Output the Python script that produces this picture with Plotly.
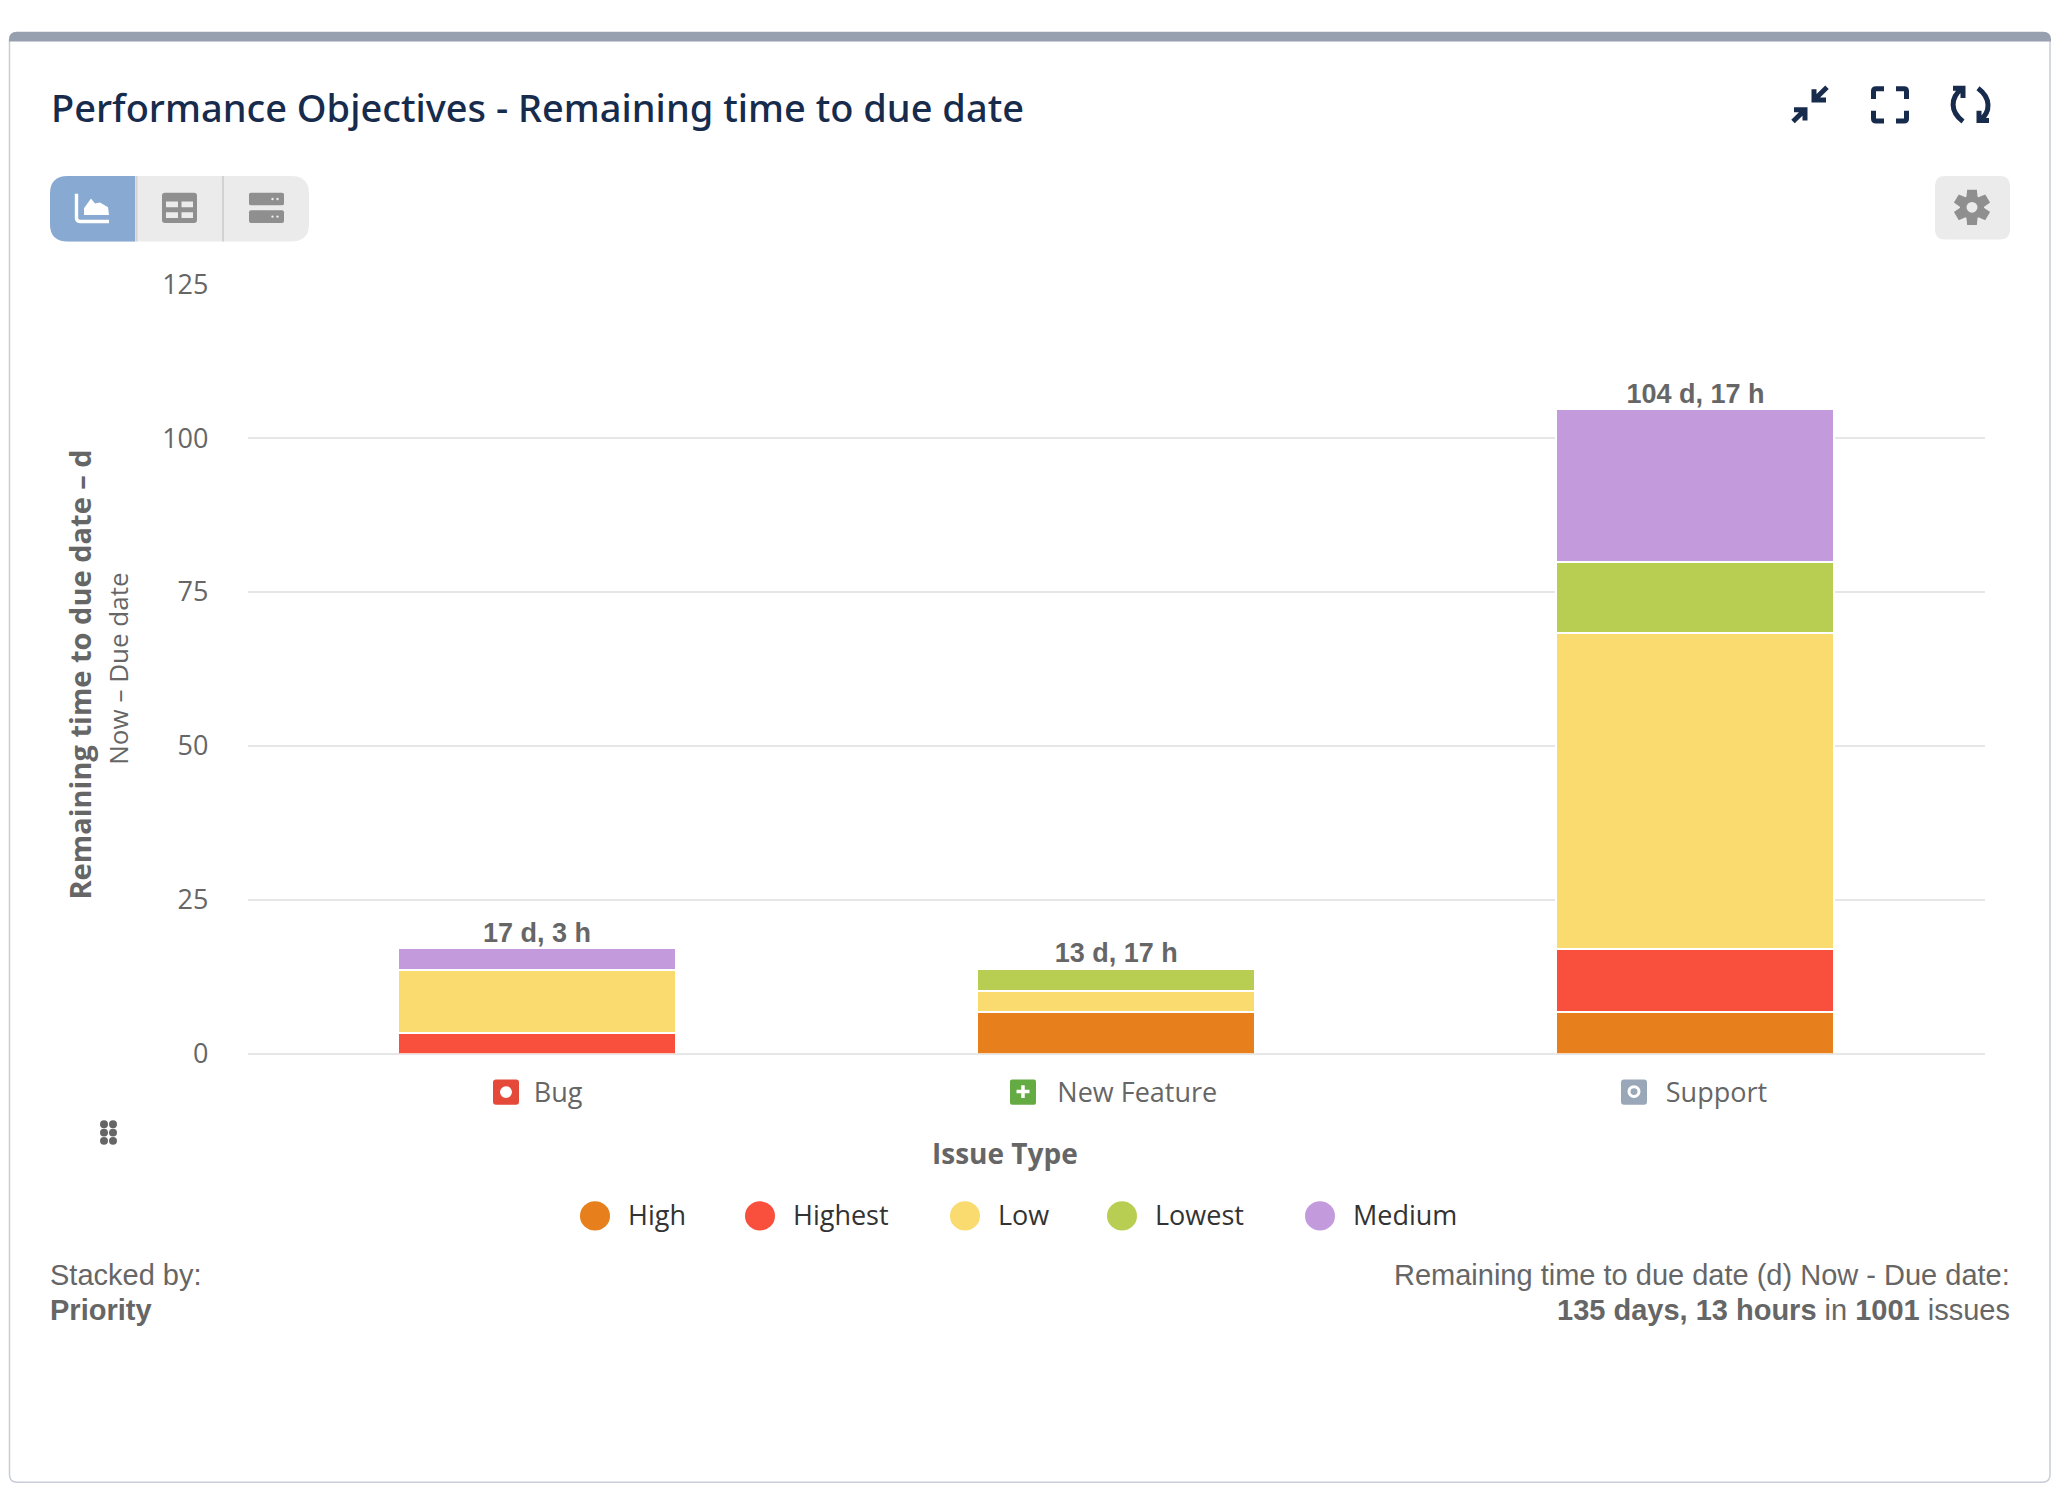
import math
import re
import plotly.graph_objects as go

W, H = 2064, 1510

# ---------- data ----------
categories = ["Bug", "New Feature", "Support"]
high = [None, 6.7, 6.7]
highest = [3.4, None, 10.3]
low = [10.2, 3.4, 51.3]
lowest = [None, 3.6, 11.5]
medium = [3.5, None, 24.9]
total_labels = ["17 d, 3 h", "13 d, 17 h", "104 d, 17 h"]
y_ticks = [0, 25, 50, 75, 100, 125]
priority_names = ["High", "Highest", "Low", "Lowest", "Medium"]
priority_colors = ["#E67F1C", "#F94F3D", "#F9DB6F", "#B8CE52", "#C39BDC"]
series = [high, highest, low, lowest, medium]

GREY = "#666666"
NAVY = "#172B4D"
SANS = "Open Sans"
ARIAL = "Liberation Sans"
NBSP = "\u00a0"


# ---------- pixel helpers for the surrounding card ----------
def fx(x):
    return x / W


def fy(y):
    return 1 - y / H


def path(d):
    """Pixel path (M/L/C/Q/Z with absolute x,y pairs) to paper coordinates."""
    return re.sub(r"(-?[\d.]+),(-?[\d.]+)",
                  lambda m: f"{fx(float(m[1])):.6f},{fy(float(m[2])):.6f}", d)


shapes = []


def add_path(d, fill=None, stroke=None, width=0, layer="above"):
    s = dict(type="path", xref="paper", yref="paper", path=path(d), layer=layer)
    s["fillcolor"] = fill if fill else "rgba(0,0,0,0)"
    s["line"] = dict(color=stroke if stroke else "rgba(0,0,0,0)", width=width)
    shapes.append(s)


def rr(x0, y0, x1, y1, tl=0, tr=0, br=0, bl=0):
    return (f"M{x0+tl},{y0} L{x1-tr},{y0} Q{x1},{y0} {x1},{y0+tr} L{x1},{y1-br} "
            f"Q{x1},{y1} {x1-br},{y1} L{x0+bl},{y1} Q{x0},{y1} {x0},{y1-bl} "
            f"L{x0},{y0+tl} Q{x0},{y0} {x0+tl},{y0} Z")


def circle(cx, cy, rx, color, ry=None):
    ry = rx if ry is None else ry
    shapes.append(dict(type="circle", xref="paper", yref="paper",
                       x0=fx(cx - rx), x1=fx(cx + rx), y0=fy(cy + ry), y1=fy(cy - ry),
                       fillcolor=color, line=dict(width=0)))


annotations = []


def text(x, y, s, size, color=GREY, family=SANS, anchor="left", angle=0, weight=None):
    font = dict(size=size, color=color, family=family)
    if weight:
        font["weight"] = weight
    annotations.append(dict(xref="paper", yref="paper", x=fx(x), y=fy(y), text=s,
                            showarrow=False, xanchor=anchor, yanchor="middle",
                            textangle=angle, font=font, borderpad=0, borderwidth=0))


# card
add_path(rr(9.5, 13, 2050, 1499, 8, 8, 8, 8), fill="#FFFFFF", stroke="#C7CDD6", width=1.5, layer="below")
add_path(rr(9, 12, 2051, 22, 8, 8, 0, 0), fill="#97A0AF", layer="below")

# view switcher
add_path(rr(50, 160, 309, 227, 18, 18, 18, 18), fill="#EBEBEB")
add_path(rr(50, 160, 135, 227, 18, 0, 0, 18), fill="#88A9D1")
add_path("M136.5,160 L136.5,227", stroke="#D2D2D2", width=2)
add_path("M223,160 L223,227", stroke="#D2D2D2", width=2)
# chart icon
add_path("M76.5,178 L76.5,203 Q76.5,206.5 80,206.5 L109,206.5", stroke="#FFFFFF", width=3.4)
add_path("M84,200 L84,193 L91,183 L95,188 L100,187 L108,192 L109,200 Z", fill="#FFFFFF")
# table icon
add_path(rr(162, 177, 197, 208, 3, 3, 3, 3), fill="#8F8F8F")
for x0, x1 in [(166, 178), (181.5, 193)]:
    for y0, y1 in [(186, 192), (197, 203)]:
        add_path(rr(x0, y0, x1, y1), fill="#EBEBEB")
# list icon
for y0 in (177, 195):
    add_path(rr(249, y0, 284, y0 + 13, 2, 2, 2, 2), fill="#8F8F8F")
    circle(272.5, y0 + 6.5, 1.2, "#EBEBEB")
    circle(277.5, y0 + 6.5, 1.2, "#EBEBEB")

# settings button
add_path(rr(1935, 160, 2010, 225, 10, 10, 10, 10), fill="#EBEBEB")
gear = []
for i in range(6):
    a = math.radians(60 * i - 90)
    for da, r in [(-25, 11), (-13, 17.5), (13, 17.5), (25, 11)]:
        t = a + math.radians(da)
        gear.append((1972 + r * math.cos(t), 192 + r * math.sin(t)))
add_path("M" + " L".join(f"{x:.2f},{y:.2f}" for x, y in gear) + " Z", fill="#8F8F8F", stroke="#8F8F8F", width=2)
circle(1972, 192, 12, "#8F8F8F")
circle(1972, 192, 5.5, "#EBEBEB")

# header icons
stroke = dict(stroke=NAVY, width=5)
add_path("M1827,69 L1814,82 M1814,71 L1814,82 L1826,82", **stroke)
add_path("M1793,104 L1805,92 M1794,92 L1805,92 L1805,103", **stroke)
add_path("M1873.5,81 L1873.5,73 Q1873.5,70.5 1876,70.5 L1884,70.5 M1896,70.5 L1904,70.5 Q1906.5,70.5 1906.5,73 L1906.5,81 "
         "M1906.5,93 L1906.5,101 Q1906.5,103.5 1904,103.5 L1896,103.5 M1884,103.5 L1876,103.5 Q1873.5,103.5 1873.5,101 L1873.5,93", **stroke)
add_path("M1963,104 C1950,94 1950,80 1962,70 M1953,70 L1963,70 L1963,80", **stroke)
add_path("M1978,70 C1991,80 1991,94 1980,103 M1989,103 L1979,103 L1979,93", **stroke)

# drag handle
for cx in (104, 113):
    for cy in (1132, 1140.5, 1149):
        circle(cx, cy, 4, GREY)

# issue-type icons next to the category labels
add_path(rr(493, 1086, 519, 1112, 3, 3, 3, 3), fill="#E5493A")
circle(506, 1099, 6, "#FFFFFF")
add_path(rr(1010, 1086, 1036, 1112, 2, 2, 2, 2), fill="#65AB43")
add_path("M1023,1092 L1023,1105 M1016.5,1098.5 L1029.5,1098.5", stroke="#FFFFFF", width=3.5)
add_path(rr(1621, 1086, 1647, 1112, 3, 3, 3, 3), fill="#9AA7B8")
circle(1634, 1098.5, 6.5, "#FFFFFF")
circle(1634, 1098.5, 3.5, "#9AA7B8")

# text around the chart
text(51, 89, "Performance Objectives - Remaining time to due date", 38, NAVY, "Noto Sans", weight=500)
text(80, 671, "<b>Remaining time to due date – d</b>", 29, GREY, SANS, "center", -90)
text(118, 665, "Now – Due date", 26, GREY, SANS, "center", -90)
text(1005, 1161, "<b>Issue Type</b>", 28, GREY, SANS, "center")

# legend
legend_circle_x = [595, 760, 965, 1122, 1320]
for name, color, cx in zip(priority_names, priority_colors, legend_circle_x):
    circle(cx, 1226, 15, color)
    text(cx + 33, 1225, name, 27, "#333333")

# footer
text(50, 1287, "Stacked by:", 29, GREY, ARIAL)
text(50, 1322, "<b>Priority</b>", 29, GREY, ARIAL)
text(2010, 1287, "Remaining time to due date (d) Now - Due date:", 29, GREY, ARIAL, "right")
text(2010, 1322, "<b>135 days, 13 hours</b> in <b>1001</b> issues", 29, GREY, ARIAL, "right")

# ---------- chart ----------
fig = go.Figure()
for name, color, vals in zip(priority_names, priority_colors, series):
    fig.add_bar(x=categories, y=vals, name=name, marker=dict(color=color, line=dict(color="#FFFFFF", width=2)),
                showlegend=False)

totals = [sum(v[i] or 0 for v in series) for i in range(len(categories))]
fig.add_scatter(x=categories, y=totals, mode="text", text=total_labels, textposition="top center",
                textfont=dict(family=ARIAL, size=27, color=GREY, weight="bold"),
                showlegend=False, cliponaxis=False, hoverinfo="skip")

tick_prefix = NBSP * 6
fig.update_layout(
    width=W, height=H, autosize=False,
    margin=dict(l=0, r=0, t=0, b=0, pad=0),
    paper_bgcolor="#FFFFFF", plot_bgcolor="rgba(0,0,0,0)",
    barmode="stack", bargap=0.52, showlegend=False,
    font=dict(family=SANS, color=GREY),
    shapes=shapes, annotations=annotations,
    xaxis=dict(domain=[fx(247.5), fx(1985)], tickmode="array", tickvals=categories,
               ticktext=[tick_prefix + c for c in categories], tickfont=dict(size=27, color=GREY, family=SANS),
               ticks="", showgrid=False, zeroline=False, showline=False, ticklabelstandoff=20, fixedrange=True),
    yaxis=dict(domain=[fy(1059.5), fy(271)], range=[0, 125], tickmode="array", tickvals=y_ticks,
               tickfont=dict(size=27, color=GREY, family=SANS), ticks="", showgrid=True, gridcolor="#E6E6E6",
               gridwidth=2, zeroline=True, zerolinecolor="#E6E6E6", zerolinewidth=2, showline=False,
               ticklabelstandoff=38, fixedrange=True),
)

fig.write_html("out.html", config=dict(displayModeBar=False),
               post_script="document.body.style.margin='0';document.body.style.overflow='hidden';")
